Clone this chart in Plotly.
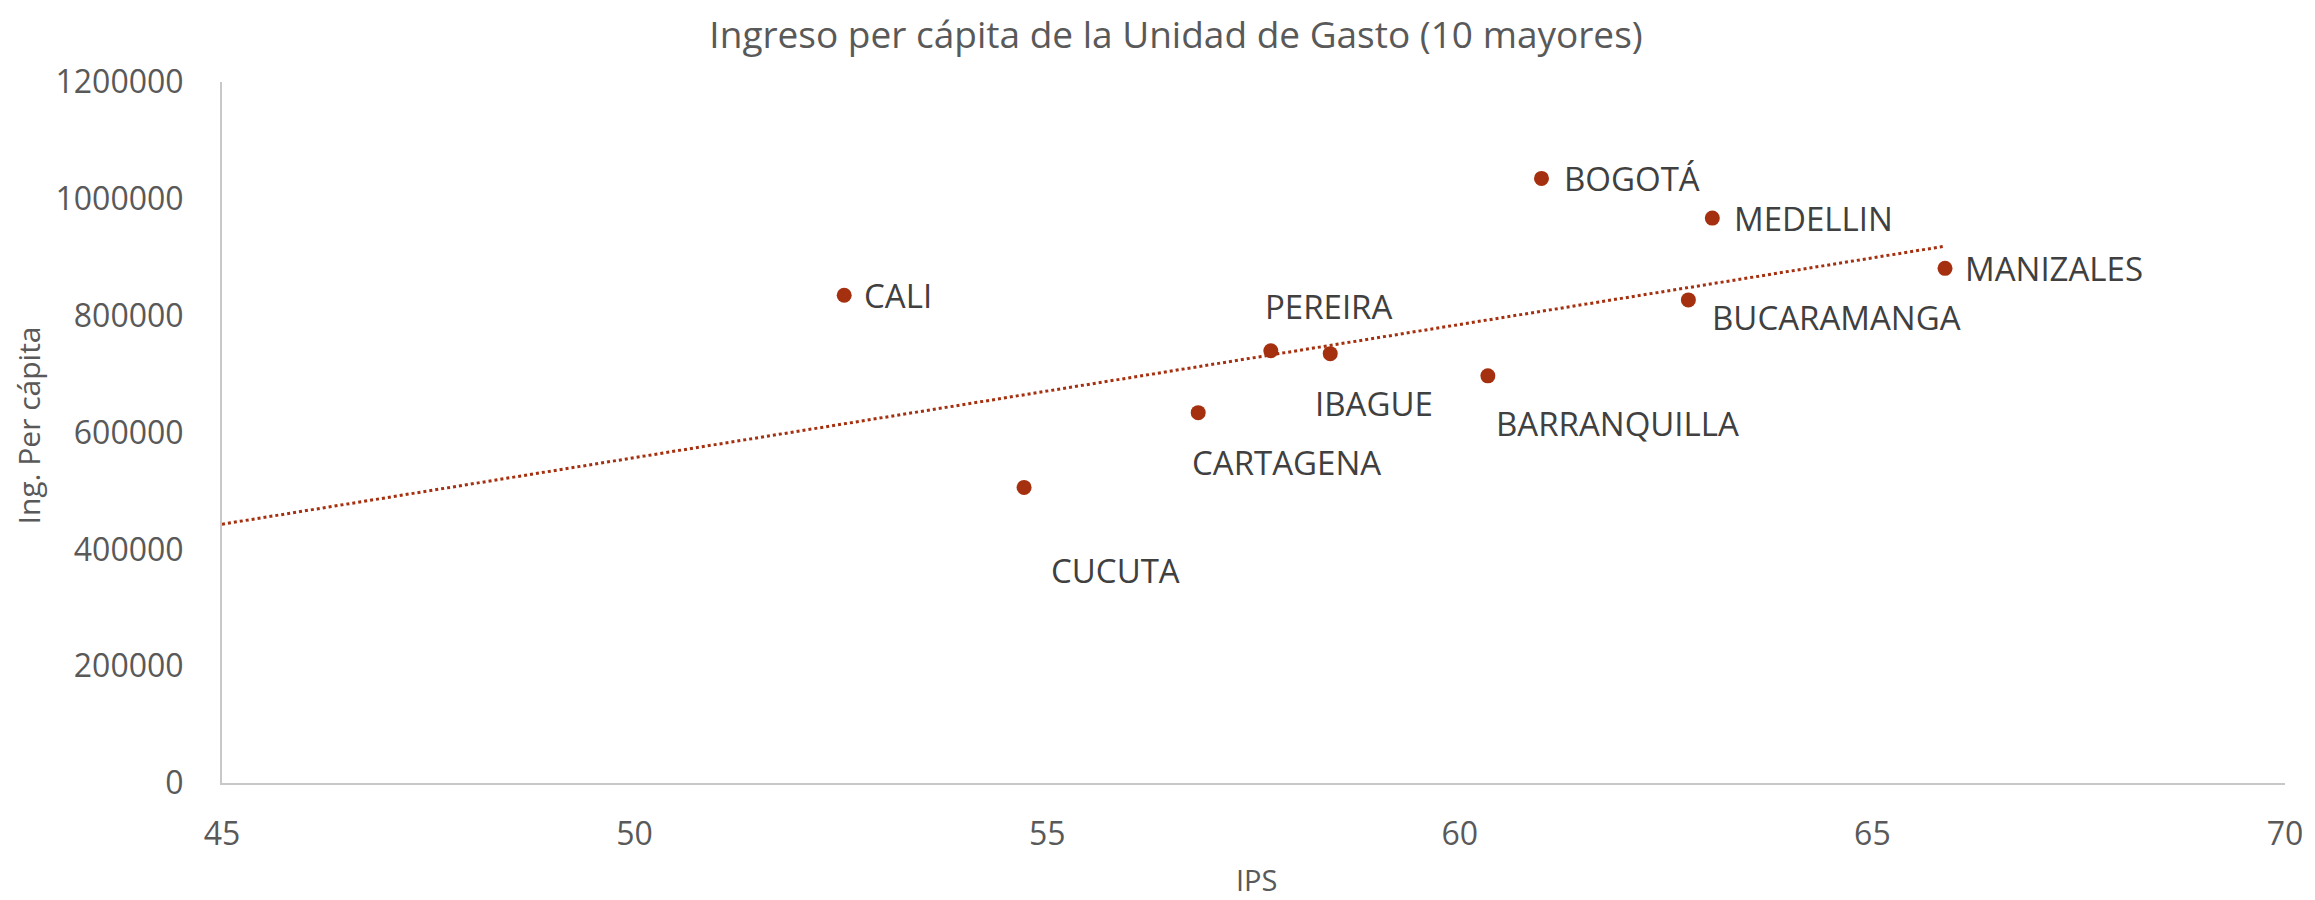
import plotly.graph_objects as go

# Datos
ciudades = ['CALI', 'CUCUTA', 'CARTAGENA', 'PEREIRA', 'IBAGUE', 'BARRANQUILLA',
            'BOGOTÁ', 'MEDELLIN', 'BUCARAMANGA', 'MANIZALES']
ips = [52.54, 54.72, 56.83, 57.71, 58.43, 60.34, 60.99, 63.06, 62.77, 65.88]
ingreso = [835000, 506000, 634000, 740000, 735000, 697000, 1035000, 967000, 827000, 881000]

# linea de tendencia (extremos)
tend_x = [45, 65.88]
tend_y = [443000, 919000]

# posicion de la etiqueta respecto al punto (px)
etiq_dx = [18, 25, -8, -8, -17, 6, 21, 20, 22, 18]
etiq_dy = [0, -83, -50, 44, -50, -48, 0, 0, -18, 0]

rojo = '#A5300F'
gris = '#595959'
fuente = 'Open Sans'

# el body de la pagina tiene 8px de margen: se compensa en el tamaño
W, H = 2307, 892
L, R, T, B = 214, 27, 74, 117

fig = go.Figure()

fig.add_trace(go.Scatter(x=tend_x, y=tend_y, mode='lines',
                         line=dict(color=rojo, width=3, dash='dot'),
                         hoverinfo='skip', showlegend=False))

fig.add_trace(go.Scatter(x=ips, y=ingreso, mode='markers', text=ciudades,
                         marker=dict(color=rojo, size=15),
                         showlegend=False))

for c, x, y, dx, dy in zip(ciudades, ips, ingreso, etiq_dx, etiq_dy):
    fig.add_annotation(x=x, y=y, text=c, showarrow=False,
                       xanchor='left', yanchor='middle',
                       xshift=dx, yshift=dy,
                       font=dict(family=fuente, size=33, color='#404040'))

# titulos de los ejes
fig.add_annotation(text='IPS', xref='paper', yref='paper', x=0.5015, y=0,
                   xanchor='center', yanchor='middle', yshift=-96, showarrow=False,
                   font=dict(family=fuente, size=29, color=gris))
fig.add_annotation(text='Ing. Per cápita', xref='paper', yref='paper', x=0, y=0.51,
                   xanchor='center', yanchor='middle', xshift=-194, textangle=-90,
                   showarrow=False, font=dict(family=fuente, size=30, color=gris))

fig.update_layout(
    width=W, height=H,
    paper_bgcolor='white', plot_bgcolor='white',
    margin=dict(l=L, r=R, t=T, b=B),
    title=dict(text='Ingreso per cápita de la Unidad de Gasto (10 mayores)',
               xref='container', x=0.5063, xanchor='center',
               yref='container', y=1 - 27 / H, yanchor='middle',
               font=dict(family=fuente, size=37, color=gris)),
    font=dict(family=fuente, color=gris),
)

fig.update_xaxes(range=[45, 70], tickvals=[45, 50, 55, 60, 65, 70],
                 showgrid=False, zeroline=False,
                 showline=True, linecolor='#C8C8C8', linewidth=2,
                 ticks='', ticklabelstandoff=22,
                 tickfont=dict(family=fuente, size=32, color=gris))

fig.update_yaxes(range=[0, 1200000],
                 tickvals=[0, 200000, 400000, 600000, 800000, 1000000, 1200000],
                 tickformat='d',
                 showgrid=False, zeroline=False,
                 showline=True, linecolor='#C8C8C8', linewidth=2,
                 ticks='', ticklabelstandoff=30,
                 tickfont=dict(family=fuente, size=32, color=gris))

fig.write_html('out.html')
